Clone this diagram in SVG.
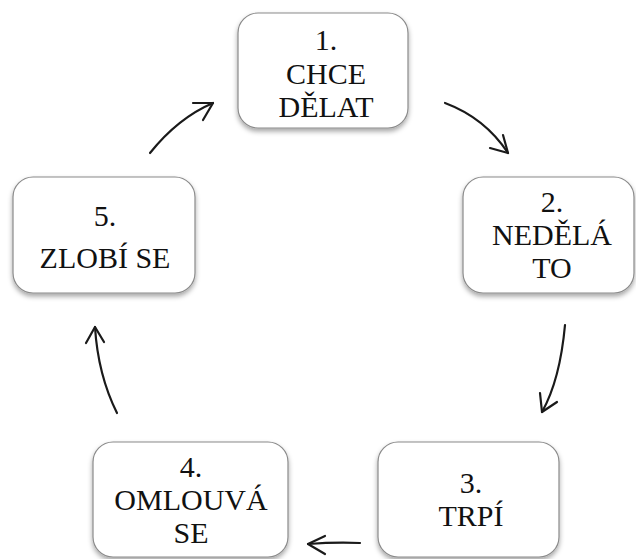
<svg xmlns="http://www.w3.org/2000/svg" width="636" height="559" viewBox="0 0 636 559">
<style>
.box{fill:#fff;stroke:#8a8a8a;stroke-width:1.2;filter:url(#sh)}
.t{font-family:'Liberation Serif','Times New Roman',serif;font-size:30px;fill:#111;text-anchor:middle}
.c{fill:none;stroke:#1a1a1a;stroke-width:2.2;stroke-linecap:round;stroke-linejoin:round}
</style>
<defs>
<filter id="sh" x="-10%" y="-10%" width="120%" height="130%">
<feDropShadow dx="0" dy="3" stdDeviation="2.5" flood-color="#000" flood-opacity="0.35"/>
</filter>
</defs>
<rect width="636" height="559" fill="#fff"/>
<g id="node1">
<rect class="box" x="238" y="13" width="170" height="115" rx="20"/>
<text class="t" x="326" y="50">1.</text>
<text class="t" x="326" y="84">CHCE</text>
<text class="t" x="326" y="117">DĚLAT</text>
</g>
<g id="node2">
<rect class="box" x="463" y="177" width="171" height="116" rx="20"/>
<text class="t" x="552" y="212">2.</text>
<text class="t" x="552" y="245">NEDĚLÁ</text>
<text class="t" x="552" y="278">TO</text>
</g>
<g id="node3">
<rect class="box" x="378" y="442" width="181" height="115" rx="20"/>
<text class="t" x="471" y="493">3.</text>
<text class="t" x="471" y="526">TRPÍ</text>
</g>
<g id="node4">
<rect class="box" x="93" y="442" width="195" height="115" rx="20"/>
<text class="t" x="191" y="477">4.</text>
<text class="t" x="191" y="510">OMLOUVÁ</text>
<text class="t" x="191" y="543">SE</text>
</g>
<g id="node5">
<rect class="box" x="13" y="177" width="182" height="116" rx="20"/>
<text class="t" x="105" y="226">5.</text>
<text class="t" x="105" y="268">ZLOBÍ SE</text>
</g>
<g id="connectors">
<path class="c" d="M445,103 Q485,118 508,153"/>
<path class="c" d="M490,148 L508,153 L503,135"/>
<path class="c" d="M565,325 Q560,380 542,412"/>
<path class="c" d="M540,393 L542,412 L557,402"/>
<path class="c" d="M360,543 Q335,542 308,544"/>
<path class="c" d="M325,536 L308,544 L325,554"/>
<path class="c" d="M117,413 Q98,375 95,327"/>
<path class="c" d="M86,343 L95,327 L104,342"/>
<path class="c" d="M150,153 Q178,118 213,103"/>
<path class="c" d="M193,103 L213,103 L203,120"/>
</g>
</svg>
